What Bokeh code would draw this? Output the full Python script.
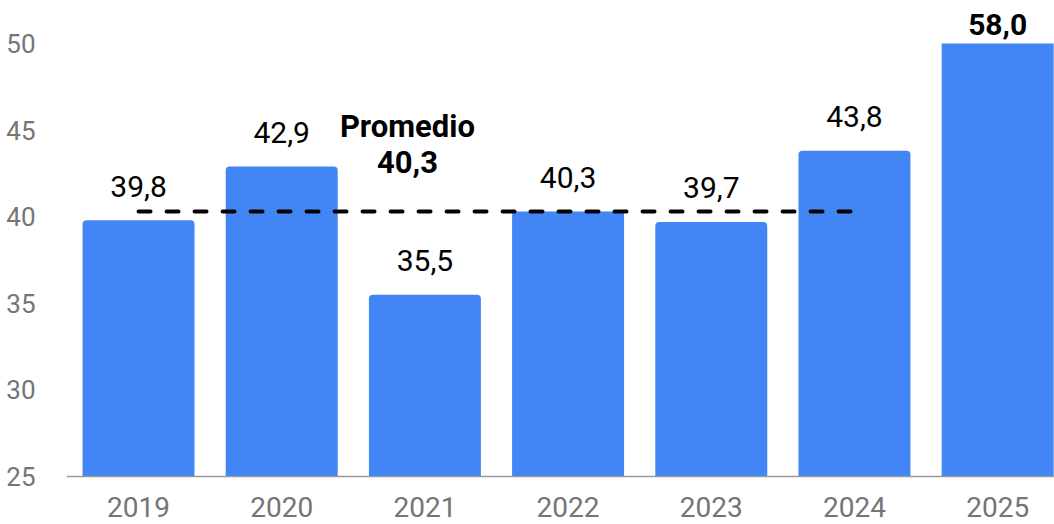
import numpy as np
from bokeh.plotting import figure
from bokeh.models import ColumnDataSource, Range1d, FixedTicker
from bokeh.core.properties import value
from bokeh.embed import file_html
from bokeh.resources import INLINE

# ---- data ----
years = ["2019", "2020", "2021", "2022", "2023", "2024", "2025"]
values = [39.8, 42.9, 35.5, 40.3, 39.7, 43.8, 58.0]
average = 40.3
average_label = "Promedio"
y_ticks = [25, 30, 35, 40, 45, 50]
axis_min, axis_max = 25, 50

FONT = "Roboto"
BAR = "#4285F4"
GREY_TXT = "#757575"

idx = np.arange(len(years))
vals = np.array(values)
fmt = lambda v: f"{v:.1f}".replace(".", ",")
labels = [fmt(v) for v in values]
inside = vals <= axis_max

src_in = ColumnDataSource(dict(x=idx[inside], top=vals[inside],
                               lab=[l for l, k in zip(labels, inside) if k]))
src_out = ColumnDataSource(dict(x=idx[~inside], top=np.minimum(vals[~inside], axis_max),
                                lab=[l for l, k in zip(labels, inside) if not k]))

# frame: canvas x 66..1054, y 0..524 ; 25 at y 476, 50 at y 43
p = figure(width=1054, height=524, output_backend="svg", toolbar_location=None,
           x_range=Range1d(-0.503, 6.397), y_range=Range1d(22.23, 52.48),
           min_border_left=66, min_border_right=0, min_border_top=0, min_border_bottom=0)
p.outline_line_color = None
p.background_fill_color = "white"
p.border_fill_color = "white"
p.xgrid.visible = False
p.ygrid.visible = False

bw = 0.782
p.vbar(x="x", top="top", bottom=axis_min, width=bw, source=src_in,
       fill_color=BAR, line_color=None, border_radius=(4, 4, 0, 0))
p.vbar(x="x", top="top", bottom=axis_min, width=bw, source=src_out,
       fill_color=BAR, line_color=None)

# average dashed line (from first to second-to-last year)
p.line(x=[idx[0], idx[-2]], y=[average, average], line_color="black",
       line_width=4, line_dash="12 16", line_cap="round")

# value labels
p.text(x="x", y="top", text="lab", source=src_in, text_align="center",
       text_baseline="alphabetic", y_offset=-34, text_font=value(FONT),
       text_font_size="30px", text_color="black")
p.text(x="x", y="top", text="lab", source=src_out, text_align="center",
       text_baseline="alphabetic", y_offset=-19, text_font=value(FONT),
       text_font_size="30px", text_font_style="bold", text_color="black")

# average annotation
p.text(x=[1.878, 1.878], y=[average, average], text=[average_label, fmt(average)],
       y_offset=[-85, -49], text_align="center", text_baseline="alphabetic",
       text_font=value(FONT), text_font_size="31px", text_font_style="bold",
       text_color="black")

# axes
xa = p.xaxis[0]
xa.fixed_location = axis_min
xa.ticker = FixedTicker(ticks=[int(i) for i in idx])
xa.major_label_overrides = {int(i): y for i, y in zip(idx, years)}
xa.major_tick_line_color = None
xa.minor_tick_line_color = None
xa.axis_line_color = "#999999"
xa.axis_line_width = 1.5
xa.major_label_standoff = 14
xa.major_label_text_font = FONT
xa.major_label_text_font_size = "28px"
xa.major_label_text_color = GREY_TXT

ya = p.yaxis[0]
ya.ticker = FixedTicker(ticks=y_ticks)
ya.major_tick_line_color = None
ya.minor_tick_line_color = None
ya.axis_line_color = None
ya.major_label_standoff = 25
ya.major_label_text_font = FONT
ya.major_label_text_font_size = "26px"
ya.major_label_text_color = GREY_TXT

open("out.html", "w").write(file_html(p, INLINE))
